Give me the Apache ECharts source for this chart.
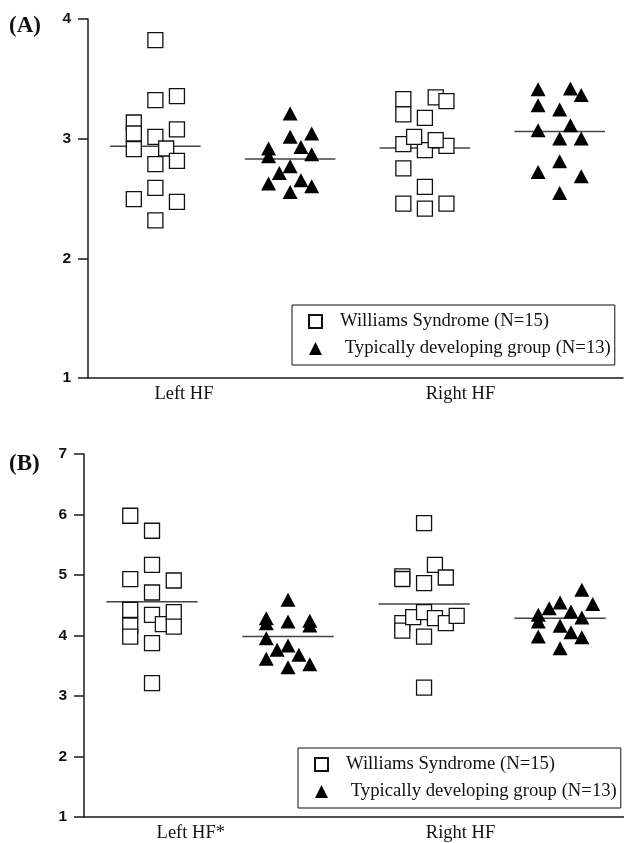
<!DOCTYPE html>
<html><head><meta charset="utf-8">
<script src="https://cdn.jsdelivr.net/npm/echarts@6/dist/echarts.min.js"></script>
<style>html,body{margin:0;padding:0;background:#fff}#c{width:624px;height:843px}</style>
</head><body><div id="c"></div>
<script>
// ---------------- DATA ----------------
const categoriesA = ['Left HF', 'Right HF'];
const categoriesB = ['Left HF*', 'Right HF'];
const seriesNames = ['Williams Syndrome (N=15)', 'Typically developing group (N=13)'];
const panelLabels = ['(A)', '(B)'];
const yTicksA = [1, 2, 3, 4];
const yTicksB = [1, 2, 3, 4, 5, 6, 7];

// Panel A values and dot-plot column (jitter) index
const aWsLeft     = [3.824, 3.322, 3.356, 3.135, 3.043, 3.015, 3.077, 2.912, 2.918, 2.787, 2.814, 2.588, 2.494, 2.471, 2.318];
const aWsLeftCol  = [0, 0, 1, -1, -1, 0, 1, -1, 0.5, 0, 1, 0, -1, 1, 0];
const aTdLeft     = [3.211, 3.015, 3.043, 2.931, 2.918, 2.854, 2.870, 2.770, 2.714, 2.625, 2.653, 2.603, 2.555];
const aTdLeftCol  = [0, 0, 1, 0.5, -1, -1, 1, 0, -0.5, -1, 0.5, 1, 0];
const aWsRight    = [3.331, 3.203, 3.345, 3.314, 3.174, 2.954, 2.904, 2.940, 3.015, 2.987, 2.751, 2.597, 2.458, 2.416, 2.458];
const aWsRightCol = [-1, -1, 0.5, 1, 0, -1, 0, 1, -0.5, 0.5, -1, 0, -1, 0, 1];
const aTdRight    = [3.412, 3.420, 3.364, 3.280, 3.244, 3.071, 3.113, 3.002, 3.002, 2.812, 2.722, 2.686, 2.546];
const aTdRightCol = [-1, 0.5, 1, -1, 0, -1, 0.5, 0, 1, 0, -1, 1, 0];
const aMeans      = [2.937, 2.831, 2.921, 3.060]; // WS-L, TD-L, WS-R, TD-R

// Panel B values and dot-plot column (jitter) index
const bWsLeft     = [5.979, 5.731, 5.169, 4.932, 4.909, 4.711, 4.424, 4.165, 3.983, 4.342, 4.188, 4.386, 4.148, 3.873, 3.212];
const bWsLeftCol  = [-1, 0, 0, -1, 1, 0, -1, -1, -1, 0, 0.5, 1, 1, 0, 0];
const bTdLeft     = [4.590, 4.287, 4.204, 4.231, 4.242, 4.165, 3.956, 3.834, 3.763, 3.680, 3.614, 3.526, 3.476];
const bTdLeftCol  = [0, -1, -1, 0, 1, 1, -1, 0, -0.5, 0.5, -1, 1, 0];
const bWsRight    = [5.859, 5.169, 4.959, 4.978, 4.934, 4.866, 4.204, 4.082, 4.304, 4.386, 4.287, 4.204, 4.325, 3.983, 3.139];
const bWsRightCol = [0, 0.5, 1, -1, -1, 0, -1, -1, -0.5, 0, 0.5, 1, 1.5, 0, 0];
const bTdRight    = [4.755, 4.519, 4.545, 4.452, 4.396, 4.342, 4.231, 4.297, 4.160, 4.055, 3.983, 3.973, 3.791];
const bTdRightCol = [1, 1.5, 0, -0.5, 0.5, -1, -1, 1, 0, 0.5, -1, 1, 0];
const bMeans      = [4.557, 3.983, 4.519, 4.287];

// ---------------- LAYOUT ----------------
const GROUP_POS = [0.5, 1.5, 2.5, 3.5];
const COL_STEP = 0.16;
const MEAN_HALF = 0.336;
const X_MAX = 3.97;
const LABEL_POS_A = [0.712, 2.764];
const LABEL_POS_B = [0.785, 2.768];

function pts(vals, cols, g) {
  return vals.map((v, i) => [GROUP_POS[g] + cols[i] * COL_STEP, v]);
}

const chart = echarts.init(document.getElementById('c'), null, {renderer: 'canvas'});

const axisColor = '#1a1a1a';
function xAxis(gi, labelPos, cats) {
  return {
    type: 'value', gridIndex: gi, min: 0, max: X_MAX,
    axisLine: {show: true, onZero: false, lineStyle: {color: axisColor, width: 1.5}},
    axisTick: {show: false},
    splitLine: {show: false},
    axisLabel: {
      customValues: labelPos,
      formatter: function (v) {
        let best = 0, d = 1e9;
        labelPos.forEach((p, i) => { if (Math.abs(p - v) < d) { d = Math.abs(p - v); best = i; } });
        return cats[best];
      },
      fontFamily: 'Liberation Serif', fontSize: 18.5, color: '#111', margin: 7
    }
  };
}
function yAxis(gi, ticks) {
  return {
    type: 'value', gridIndex: gi, min: ticks[0], max: ticks[ticks.length - 1], interval: 1,
    axisLine: {show: true, lineStyle: {color: axisColor, width: 1.5}},
    axisTick: {show: true, length: 10, lineStyle: {color: axisColor, width: 1.5}},
    splitLine: {show: false},
    axisLabel: {fontFamily: 'Liberation Sans', fontWeight: 'bold', fontSize: 15.5, color: '#111', margin: 17}
  };
}

function meanSeries(gi, means) {
  return means.map((m, g) => ({
    type: 'line', xAxisIndex: gi, yAxisIndex: gi, silent: true, symbol: 'none', z: 1,
    lineStyle: {color: '#444', width: 1.5},
    data: [[GROUP_POS[g] - MEAN_HALF, m], [GROUP_POS[g] + MEAN_HALF, m]]
  }));
}
function wsSeries(gi, data) {
  return {
    name: seriesNames[0], type: 'scatter', xAxisIndex: gi, yAxisIndex: gi, z: 3,
    symbol: 'rect', symbolSize: 15,
    itemStyle: {color: '#fff', borderColor: '#111', borderWidth: 1.3, opacity: 1},
    data: data
  };
}
function tdSeries(gi, data) {
  return {
    name: seriesNames[1], type: 'scatter', xAxisIndex: gi, yAxisIndex: gi, z: 3,
    symbol: 'triangle', symbolSize: [15, 14],
    itemStyle: {color: '#000', opacity: 1},
    data: data
  };
}
function legend(left, top) {
  return {
    orient: 'vertical', left: left, top: top,
    data: [{name: seriesNames[0], icon: 'rect'}, {name: seriesNames[1], icon: 'triangle'}],
    itemWidth: 13, itemHeight: 13, itemGap: 8,
    padding: [7, 4, 7, 16],
    borderColor: '#111', borderWidth: 1, borderRadius: 0,
    selectedMode: false,
    textStyle: {fontFamily: 'Liberation Serif', fontSize: 18.7, color: '#111', padding: [0, 0, 0, 13]},
    formatter: n => (n === seriesNames[1] ? ' ' + n : n)
  };
}

const option = {
  animation: false,
  backgroundColor: '#fff',
  title: [
    {text: panelLabels[0], left: 9, top: 15, padding: 0,
     textStyle: {fontFamily: 'Liberation Serif', fontWeight: 'bold', fontSize: 23, color: '#111'}},
    {text: panelLabels[1], left: 9, top: 453, padding: 0,
     textStyle: {fontFamily: 'Liberation Serif', fontWeight: 'bold', fontSize: 23, color: '#111'}}
  ],
  legend: [legend(292, 305), legend(298, 748)],
  grid: [
    {left: 88, right: 1, top: 19, height: 359, containLabel: false},
    {left: 84, right: 0, top: 454, height: 363, containLabel: false}
  ],
  xAxis: [xAxis(0, LABEL_POS_A, categoriesA), xAxis(1, LABEL_POS_B, categoriesB)],
  yAxis: [yAxis(0, yTicksA), yAxis(1, yTicksB)],
  series: [
    ...meanSeries(0, aMeans),
    wsSeries(0, [...pts(aWsLeft, aWsLeftCol, 0), ...pts(aWsRight, aWsRightCol, 2)]),
    tdSeries(0, [...pts(aTdLeft, aTdLeftCol, 1), ...pts(aTdRight, aTdRightCol, 3)]),
    ...meanSeries(1, bMeans),
    wsSeries(1, [...pts(bWsLeft, bWsLeftCol, 0), ...pts(bWsRight, bWsRightCol, 2)]),
    tdSeries(1, [...pts(bTdLeft, bTdLeftCol, 1), ...pts(bTdRight, bTdRightCol, 3)])
  ]
};
chart.setOption(option);
</script></body></html>
